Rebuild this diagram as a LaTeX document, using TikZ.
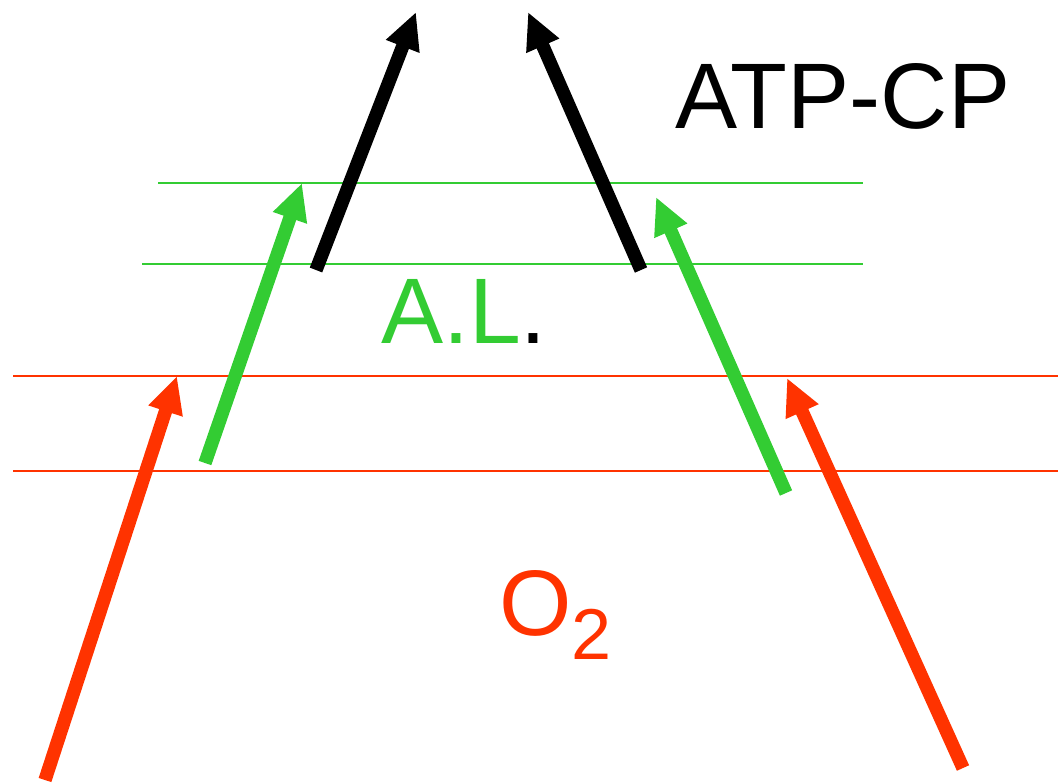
\documentclass[tikz,border=0pt]{standalone}
\usepackage{fontspec}
\setmainfont{Liberation Sans}
\usetikzlibrary{arrows.meta}
\definecolor{oxred}{HTML}{FF3300}
\definecolor{algreen}{HTML}{33CC33}
\tikzset{
  flux/.style={line width=7.6pt, -{Triangle[length=21pt,width=19pt]}},
  band/.style={line width=1pt},
  big/.style={font=\fontsize{53}{60}\selectfont, inner sep=0pt}
}
\begin{document}
\begin{tikzpicture}[x=0.02cm, y=-0.02cm]
  \useasboundingbox (0,0) rectangle (1058,782);
  % threshold bands
  \draw[band, algreen] (158,183) -- (863,183);
  \draw[band, algreen] (142,264) -- (863,264);
  \draw[band, oxred] (13,376) -- (1058,376);
  \draw[band, oxred] (13,471) -- (1058,471);
  % end points of the arrows
  \coordinate (oxLs) at (45,780);   \coordinate (oxLe) at (177,376);
  \coordinate (oxRs) at (963,768);  \coordinate (oxRe) at (787,378);
  \coordinate (alLs) at (205,463);  \coordinate (alLe) at (302,183);
  \coordinate (alRs) at (786,493);  \coordinate (alRe) at (656,197);
  \coordinate (atLs) at (316,270);  \coordinate (atLe) at (416,12);
  \coordinate (atRs) at (641,270);  \coordinate (atRe) at (528,12);
  \draw[flux, oxred] (oxLs) -- (oxLe);
  \draw[flux, oxred] (oxRs) -- (oxRe);
  \draw[flux, algreen] (alLs) -- (alLe);
  \draw[flux, algreen] (alRs) -- (alRe);
  \draw[flux, black] (atLs) -- (atLe);
  \draw[flux, black] (atRs) -- (atRe);
  % labels
  \node[big, anchor=base] (atp) at (843,128) {ATP-CP};
  \node[big, anchor=base] (al) at (464,343) {\textcolor{algreen}{A.L}.};
  \node[big, anchor=base west, oxred] (ox) at (499,635)
    {O\raisebox{-14pt}{\fontsize{41}{45}\selectfont 2}};
\end{tikzpicture}
\end{document}
